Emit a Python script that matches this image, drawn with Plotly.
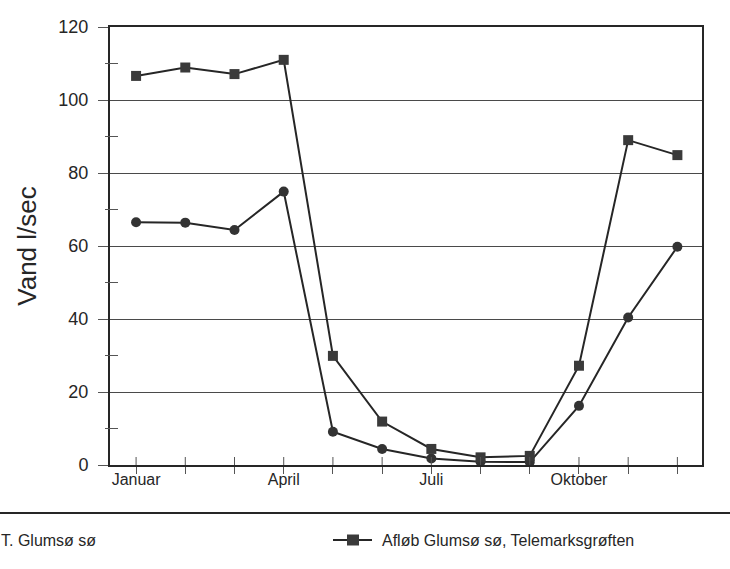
import plotly.graph_objects as go

months = ["Januar", "Februar", "Marts", "April", "Maj", "Juni",
          "Juli", "August", "September", "Oktober", "November", "December"]
tick_labels = ["Januar", "", "", "April", "", "", "Juli", "", "", "Oktober", "", ""]

# Afløb Glumsø sø, Telemarksgrøften (squares)
aflob = [106.6, 108.9, 107.1, 111.0, 29.9, 11.9, 4.4, 2.1, 2.5, 27.2, 89.0, 84.9]
# T. Glumsø sø (circles)
glumso = [66.5, 66.4, 64.4, 74.9, 9.1, 4.4, 1.8, 0.9, 0.8, 16.2, 40.4, 59.8]

y_major = [0, 20, 40, 60, 80, 100, 120]
y_minor = [10, 30, 50, 70, 90, 110]

name_sq = "Afløb Glumsø sø, Telemarksgrøften"
name_ci = "T. Glumsø sø"

FONT = "Liberation Sans, Arial, sans-serif"
INK = "#262626"
x = list(range(len(months)))

W, H = 730, 569
ml, mr, mt, mb = 110, 28, 27, 104
pw, ph = W - ml - mr, H - mt - mb

fig = go.Figure()
fig.add_trace(go.Scatter(
    x=x, y=glumso, name=name_ci, mode="lines+markers",
    line=dict(color=INK, width=2),
    marker=dict(symbol="circle", size=10, color="#333333"),
    showlegend=False))
fig.add_trace(go.Scatter(
    x=x, y=aflob, name=name_sq, mode="lines+markers",
    line=dict(color=INK, width=2),
    marker=dict(symbol="square", size=10, color="#3a3a3a"),
    showlegend=False))

shapes = []
# minor y ticks crossing the axis
for v in y_minor:
    shapes.append(dict(type="line", xref="x domain", yref="y",
                       x0=-5 / pw, x1=8 / pw, y0=v, y1=v,
                       line=dict(color="#555555", width=1)))
# inner part of x ticks (crossing)
for i in x:
    shapes.append(dict(type="line", xref="x", yref="y domain",
                       x0=i, x1=i, y0=0, y1=8 / ph,
                       line=dict(color="#555555", width=1)))
# legend separator rule
shapes.append(dict(type="line", xref="paper", yref="paper",
                   x0=-ml / pw, x1=(W - ml) / pw,
                   y0=-(513 - (H - mb)) / ph, y1=-(513 - (H - mb)) / ph,
                   line=dict(color=INK, width=2)))
# legend glyph for square series
ly = -(540 - (H - mb)) / ph
shapes.append(dict(type="line", xref="paper", yref="paper",
                   x0=(333 - ml) / pw, x1=(372 - ml) / pw, y0=ly, y1=ly,
                   line=dict(color=INK, width=2)))
shapes.append(dict(type="rect", xref="paper", yref="paper",
                   x0=(347 - ml) / pw, x1=(359 - ml) / pw,
                   y0=ly - 5.5 / ph, y1=ly + 5.5 / ph,
                   line=dict(width=0), fillcolor="#3a3a3a"))

annotations = [
    dict(text=name_ci, xref="paper", yref="paper", x=(-1 - ml) / pw, y=ly,
         xanchor="left", yanchor="middle", showarrow=False,
         font=dict(family=FONT, size=16, color=INK)),
    dict(text=name_sq, xref="paper", yref="paper", x=(380 - ml) / pw, y=ly,
         xanchor="left", yanchor="middle", showarrow=False,
         font=dict(family=FONT, size=16, color=INK)),
]

fig.update_layout(
    width=W, height=H,
    margin=dict(l=ml, r=mr, t=mt, b=mb, autoexpand=False),
    paper_bgcolor="white", plot_bgcolor="white",
    font=dict(family=FONT, color=INK),
    shapes=shapes, annotations=annotations,
    xaxis=dict(
        range=[-0.53, 11.5], tickvals=x, ticktext=tick_labels,
        ticks="outside", ticklen=7, tickcolor="#555555", tickwidth=1,
        ticklabelstandoff=-8,
        showline=True, linecolor=INK, linewidth=2, mirror=True,
        showgrid=False, zeroline=False,
        tickfont=dict(family=FONT, size=16, color=INK),
    ),
    yaxis=dict(
        range=[0, 120], tickvals=y_major,
        ticks="outside", ticklen=10, tickcolor="#555555", tickwidth=1,
        ticklabelstandoff=6,
        showline=True, linecolor=INK, linewidth=2, mirror=True,
        showgrid=True, gridcolor="#4a4a4a", gridwidth=1,
        zeroline=False,
        tickfont=dict(family=FONT, size=18, color=INK),
        title=dict(text="Vand l/sec", standoff=14,
                   font=dict(family=FONT, size=26, color=INK)),
    ),
)

fig.write_html("out.html", config={"displayModeBar": False},
               post_script="document.body.style.margin='0px';")
